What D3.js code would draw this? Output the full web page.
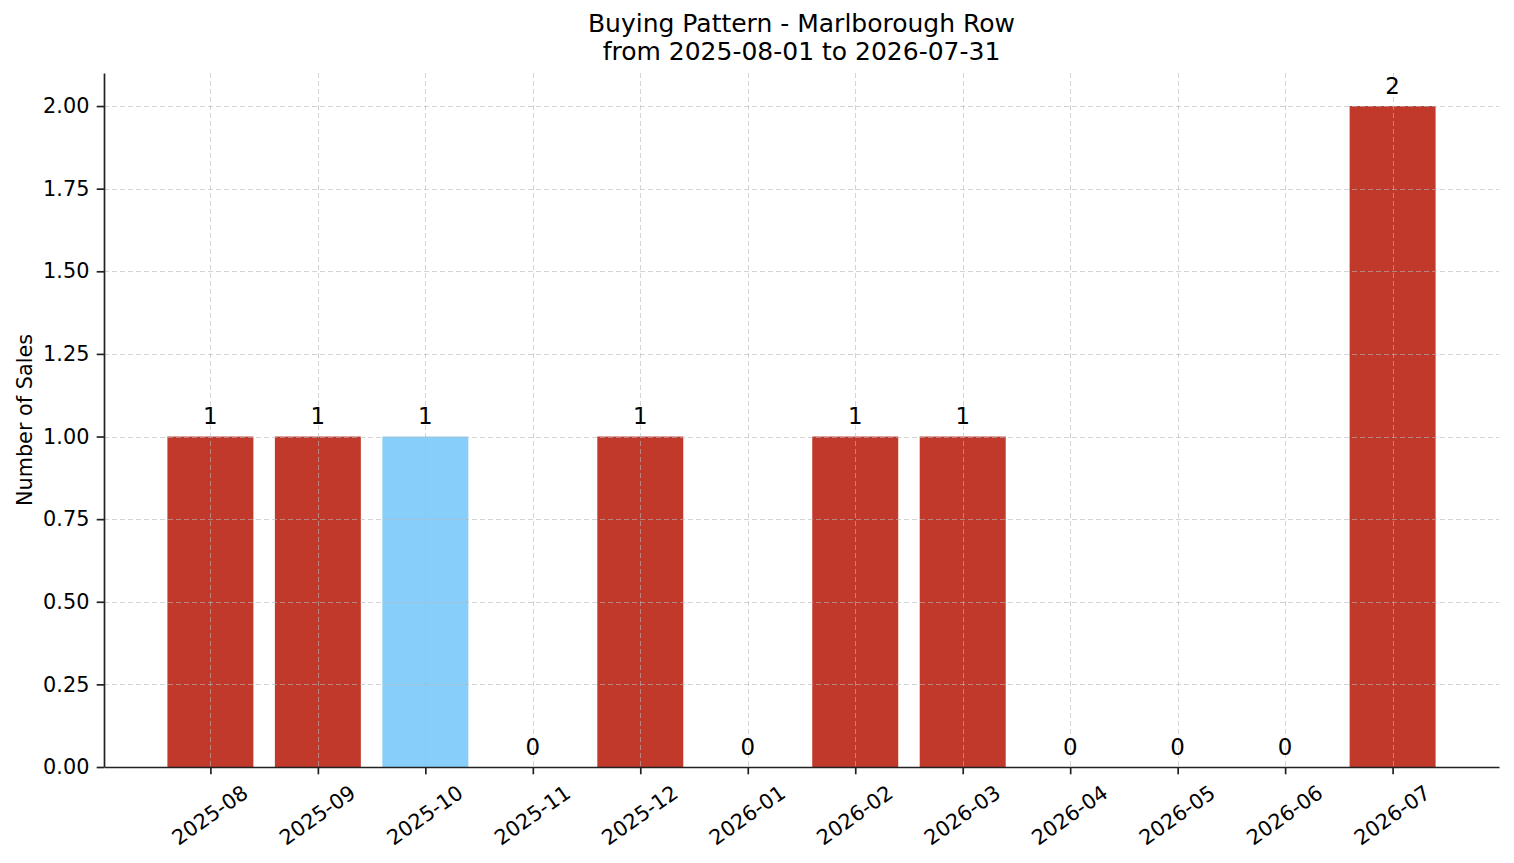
<!DOCTYPE html>
<html>
<head>
<meta charset="utf-8">
<script src="https://d3js.org/d3.v7.min.js"></script>
<style>
  body { margin: 0; background: #fff; }
  text { font-family: "DejaVu Sans", sans-serif; fill: #000; }
</style>
</head>
<body>
<div id="chart"></div>
<script>
var svgWidth = 1514;
var svgHeight = 863;

var margin = { top: 73, right: 15, bottom: 96, left: 104 };
var width = svgWidth - margin.left - margin.right;
var height = svgHeight - margin.top - margin.bottom;

// data
var months = ["2025-08", "2025-09", "2025-10", "2025-11", "2025-12", "2026-01",
              "2026-02", "2026-03", "2026-04", "2026-05", "2026-06", "2026-07"];
var sales = [1, 1, 1, 0, 1, 0, 1, 1, 0, 0, 0, 2];
var highlighted = ["2025-10"];
var yTicks = [0, 0.25, 0.5, 0.75, 1.0, 1.25, 1.5, 1.75, 2.0];
var titleLines = ["Buying Pattern - Marlborough Row", "from 2025-08-01 to 2026-07-31"];

var barColor = "#c0392b";
var highlightColor = "#87cefa";

var svg = d3.select("#chart")
  .append("svg")
  .attr("width", svgWidth)
  .attr("height", svgHeight);

var chartGroup = svg.append("g")
  .attr("transform", `translate(${margin.left}, ${margin.top})`);

// scales
var xScale = d3.scalePoint()
  .domain(months)
  .range([0, width])
  .padding(0.99);

var barWidth = xScale.step() * 0.8;

var yScale = d3.scaleLinear()
  .domain([0, 2.1])
  .range([height, 0]);

// bars
chartGroup.selectAll("rect.bar")
  .data(months)
  .enter()
  .append("rect")
  .attr("class", "bar")
  .attr("x", (d) => xScale(d) - barWidth / 2)
  .attr("y", (d, i) => yScale(sales[i]))
  .attr("width", barWidth)
  .attr("height", (d, i) => height - yScale(sales[i]))
  .attr("fill", (d) => highlighted.indexOf(d) >= 0 ? highlightColor : barColor);

// grid (drawn on top of the bars, semi transparent)
var grid = chartGroup.append("g")
  .attr("stroke", "#b8b8b8")
  .attr("stroke-opacity", 0.6)
  .attr("stroke-width", 1)
  .attr("stroke-dasharray", "5,3");

grid.selectAll("line.h")
  .data(yTicks)
  .enter()
  .append("line")
  .attr("x1", 0)
  .attr("x2", width)
  .attr("y1", (d) => Math.round(yScale(d)) + 0.5)
  .attr("y2", (d) => Math.round(yScale(d)) + 0.5);

grid.selectAll("line.v")
  .data(months)
  .enter()
  .append("line")
  .attr("x1", (d) => Math.round(xScale(d)) + 0.5)
  .attr("x2", (d) => Math.round(xScale(d)) + 0.5)
  .attr("y1", 0)
  .attr("y2", height);

// value labels
chartGroup.selectAll("text.val")
  .data(months)
  .enter()
  .append("text")
  .attr("class", "val")
  .attr("x", (d) => xScale(d))
  .attr("y", (d, i) => yScale(sales[i]) - 12.3)
  .attr("text-anchor", "middle")
  .style("font-size", "22.9px")
  .text((d, i) => sales[i]);

// axes
var bottomAxis = d3.axisBottom(xScale)
  .tickSize(7.3)
  .tickSizeOuter(0)
  .tickPadding(7.3);

var leftAxis = d3.axisLeft(yScale)
  .tickValues(yTicks)
  .tickFormat(d3.format(".2f"))
  .tickSize(7.3)
  .tickSizeOuter(0)
  .tickPadding(7.3);

var xAxis = chartGroup.append("g")
  .attr("transform", `translate(0, ${height})`)
  .call(bottomAxis);

xAxis.selectAll("text")
  .attr("y", 0)
  .attr("dy", "0.35em")
  .attr("text-anchor", "middle")
  .attr("transform", "translate(-1, 48) rotate(-35)");

var yAxis = chartGroup.append("g")
  .call(leftAxis);

[xAxis, yAxis].forEach(function(ax) {
  ax.select(".domain").attr("stroke", "#222").attr("stroke-width", 1.7);
  ax.selectAll(".tick line").attr("stroke", "#222").attr("stroke-width", 1.7);
  ax.selectAll(".tick text")
    .style("font-family", "'DejaVu Sans', sans-serif")
    .style("font-size", "20.8px")
    .attr("fill", "#000");
});

// y axis label
svg.append("text")
  .attr("transform", `translate(32, ${margin.top + height / 2}) rotate(-90)`)
  .attr("text-anchor", "middle")
  .style("font-size", "20.8px")
  .text("Number of Sales");

// title
svg.selectAll("text.title")
  .data(titleLines)
  .enter()
  .append("text")
  .attr("class", "title")
  .attr("x", margin.left + width / 2)
  .attr("y", (d, i) => 32 + i * 28)
  .attr("text-anchor", "middle")
  .style("font-size", "25px")
  .text((d) => d);
</script>
</body>
</html>
